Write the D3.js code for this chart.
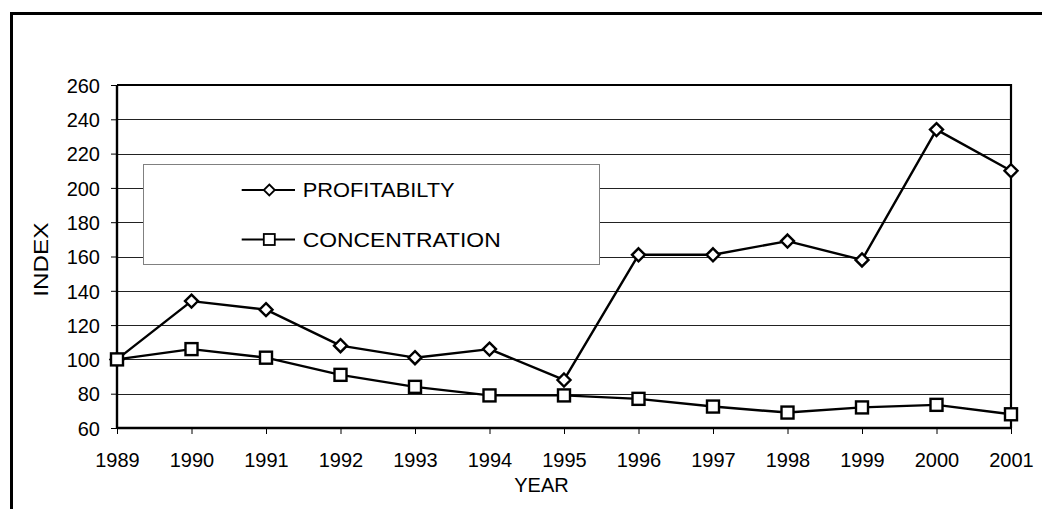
<!DOCTYPE html>
<html>
<head>
<meta charset="utf-8">
<script src="https://cdn.jsdelivr.net/npm/d3@7"></script>
<style>
  html, body { margin: 0; padding: 0; background: #fff; overflow: hidden; }
  svg { display: block; }
  text { font-family: "Liberation Sans", Arial, sans-serif; fill: #000; }
</style>
</head>
<body>
<svg id="chart" width="1042" height="509"></svg>
<script>
const years = [1989, 1990, 1991, 1992, 1993, 1994, 1995, 1996, 1997, 1998, 1999, 2000, 2001];
const profitability = [100, 134, 129, 108, 101, 106, 88, 161, 161, 169, 158, 234, 210];
const concentration = [100, 106, 101, 91, 84, 79, 79, 77, 72.5, 69, 72, 73.5, 68];
const yTicks = [60, 80, 100, 120, 140, 160, 180, 200, 220, 240, 260];
const seriesNames = ["PROFITABILTY", "CONCENTRATION"];

(function () {
const svg = d3.select("#chart");
const W = 1042, H = 509;
const pL = 117, pR = 1011, pT = 85, pB = 428;

// outer frame: top and left edges only
svg.append("line")
  .attr("x1", 11.5).attr("x2", 11.5).attr("y1", 12).attr("y2", H)
  .attr("stroke", "#000").attr("stroke-width", 3);
svg.append("line")
  .attr("x1", 10).attr("x2", W).attr("y1", 13.5).attr("y2", 13.5)
  .attr("stroke", "#000").attr("stroke-width", 3);

const x = d3.scalePoint().domain(years).range([pL, pR]).padding(0);
const y = d3.scaleLinear().domain([60, 260]).range([pB, pT]);

// gridlines
svg.append("g").selectAll("line")
  .data(yTicks.filter(d => d > 60 && d < 260))
  .join("line")
  .attr("x1", pL).attr("x2", pR)
  .attr("y1", d => Math.round(y(d)) + 0.5).attr("y2", d => Math.round(y(d)) + 0.5)
  .attr("stroke", "#222").attr("stroke-width", 1);

// plot frame top & right
svg.append("path")
  .attr("d", `M${pL},${pT}H${pR}V${pB}`)
  .attr("fill", "none").attr("stroke", "#000").attr("stroke-width", 2.2);

// legend box
const lg = svg.append("g");
lg.append("rect")
  .attr("x", 143.5).attr("y", 164.5).attr("width", 456).attr("height", 100)
  .attr("fill", "#fff").attr("stroke", "#808080").attr("stroke-width", 1);

// axes
const yAxis = d3.axisLeft(y).tickValues(yTicks).tickSize(6).tickPadding(11);
const gy = svg.append("g").attr("transform", `translate(${pL},0)`).call(yAxis);
gy.select(".domain").attr("stroke-width", 2.4).attr("d", `M0,${pT}V${pB}`);
gy.selectAll(".tick line").attr("stroke-width", 1);
gy.selectAll("text").attr("font-size", 20).attr("dy", "0.36em")
  .style("font-family", "'Liberation Sans', Arial, sans-serif");

const xAxis = d3.axisBottom(x).tickSize(6).tickPadding(19).tickFormat(d3.format("d"));
const gx = svg.append("g").attr("transform", `translate(0,${pB})`).call(xAxis);
gx.select(".domain").attr("stroke-width", 2.4).attr("d", `M${pL},0H${pR}`);
gx.selectAll(".tick line").attr("stroke-width", 1);
gx.selectAll("text").attr("font-size", 20)
  .style("font-family", "'Liberation Sans', Arial, sans-serif");

// axis titles
svg.append("text")
  .attr("transform", `translate(47.5,259.7) rotate(-90)`)
  .attr("text-anchor", "middle").attr("font-size", 20)
  .attr("textLength", 74).attr("lengthAdjust", "spacingAndGlyphs")
  .text("INDEX");
svg.append("text")
  .attr("x", 541.5).attr("y", 492.3)
  .attr("text-anchor", "middle").attr("font-size", 20)
  .text("YEAR");

// series
const line = d3.line().x((d, i) => x(years[i])).y(d => y(d));
const diamond = s => `M0,${-s}L${s},0L0,${s}L${-s},0Z`;

svg.append("path").datum(profitability)
  .attr("d", line).attr("fill", "none").attr("stroke", "#000").attr("stroke-width", 2.4)
  .attr("stroke-linejoin", "round");
svg.append("path").datum(concentration)
  .attr("d", line).attr("fill", "none").attr("stroke", "#000").attr("stroke-width", 2.4)
  .attr("stroke-linejoin", "round");

svg.append("g").selectAll("path").data(profitability).join("path")
  .attr("transform", (d, i) => `translate(${x(years[i])},${y(d)})`)
  .attr("d", diamond(6.5))
  .attr("fill", "#fff").attr("stroke", "#000").attr("stroke-width", 2.4);

svg.append("g").selectAll("rect").data(concentration).join("rect")
  .attr("x", (d, i) => x(years[i]) - 6).attr("y", d => y(d) - 6)
  .attr("width", 12).attr("height", 12)
  .attr("fill", "#fff").attr("stroke", "#000").attr("stroke-width", 2.4);

// legend entries
const legY = [190, 239.5];
const legBase = [196.8, 246.7];
const legLen = [152, 198];
seriesNames.forEach((name, i) => {
  lg.append("line").attr("x1", 241.7).attr("x2", 295).attr("y1", legY[i]).attr("y2", legY[i])
    .attr("stroke", "#000").attr("stroke-width", 2.2);
  if (i === 0) {
    lg.append("path").attr("transform", `translate(269.3,${legY[i]})`)
      .attr("d", diamond(5.5)).attr("fill", "#fff").attr("stroke", "#000").attr("stroke-width", 1.8);
  } else {
    lg.append("rect").attr("x", 269.3 - 5.5).attr("y", legY[i] - 5.5).attr("width", 11).attr("height", 11)
      .attr("fill", "#fff").attr("stroke", "#000").attr("stroke-width", 1.8);
  }
  lg.append("text").attr("x", 302.7).attr("y", legBase[i]).attr("font-size", 21)
    .attr("textLength", legLen[i]).attr("lengthAdjust", "spacingAndGlyphs")
    .text(name);
});
})();
</script>
</body>
</html>
